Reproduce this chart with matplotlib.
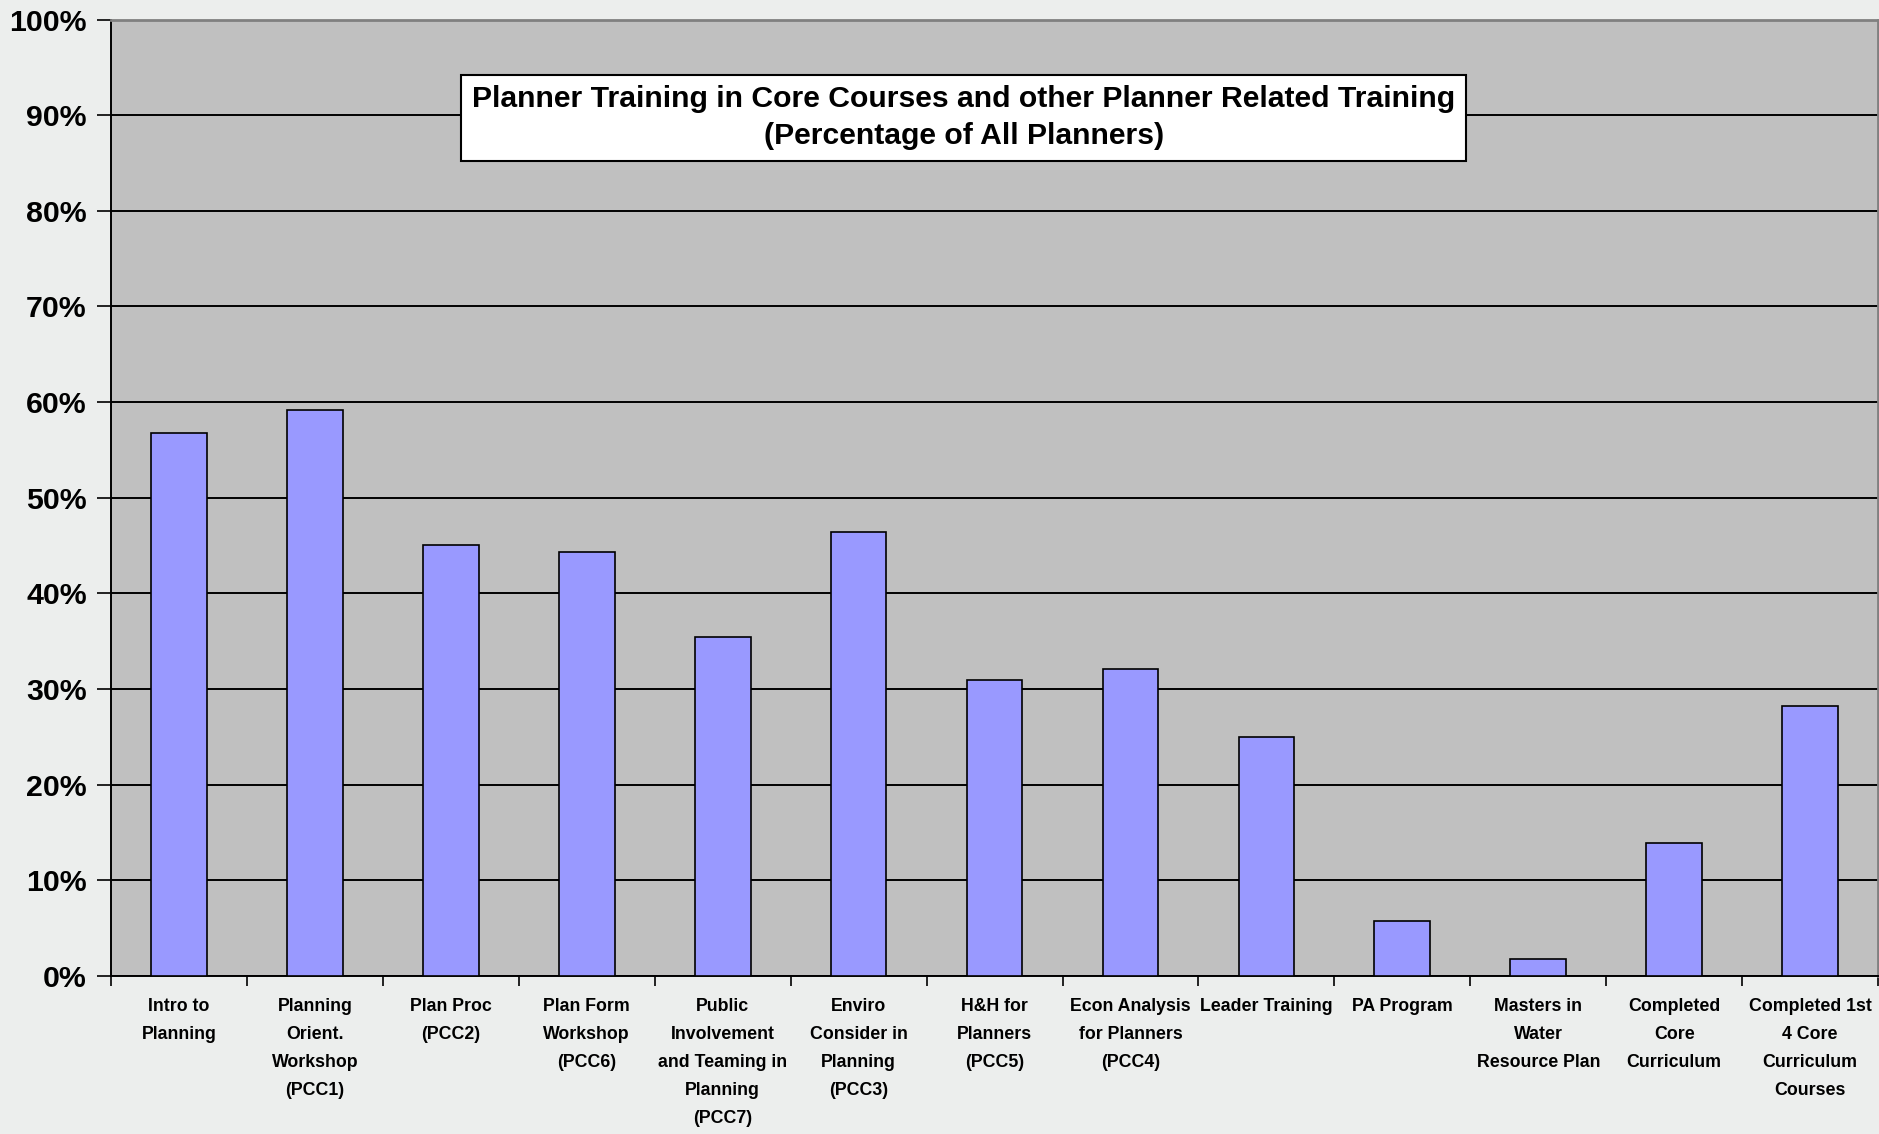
import matplotlib
matplotlib.use("Agg")
import matplotlib.pyplot as plt
import numpy as np

# data (percent of all planners)
courses = [
    "Intro to\nPlanning",
    "Planning\nOrient.\nWorkshop\n(PCC1)",
    "Plan Proc\n(PCC2)",
    "Plan Form\nWorkshop\n(PCC6)",
    "Public\nInvolvement\nand Teaming in\nPlanning\n(PCC7)",
    "Enviro\nConsider in\nPlanning\n(PCC3)",
    "H&H for\nPlanners\n(PCC5)",
    "Econ Analysis\nfor Planners\n(PCC4)",
    "Leader Training",
    "PA Program",
    "Masters in\nWater\nResource Plan",
    "Completed\nCore\nCurriculum",
    "Completed 1st\n4 Core\nCurriculum\nCourses",
]
pct_trained = [56.8, 59.2, 45.1, 44.3, 35.4, 46.4, 31.0, 32.1, 25.0, 5.8, 1.75, 13.9, 28.2]
y_ticks = [0, 10, 20, 30, 40, 50, 60, 70, 80, 90, 100]
title = "Planner Training in Core Courses and other Planner Related Training\n(Percentage of All Planners)"

FONT = "Liberation Sans"

fig = plt.figure(figsize=(18.79, 11.34), dpi=100, facecolor="#eceeed")
ax = fig.add_axes([0.0591, 0.1393, 0.9404, 0.8435])
ax.set_facecolor("#c0c0c0")

x = np.arange(len(courses))
ax.bar(x, pct_trained, width=0.41, color="#9999ff", edgecolor="black", linewidth=1.2, zorder=3)

ax.set_ylim(0, 100)
ax.set_xlim(-0.5, len(courses) - 0.5)
ax.set_yticks(y_ticks)
ax.set_yticklabels([f"{v}%" for v in y_ticks], fontsize=21.8, fontweight="bold", family=FONT)
ax.yaxis.grid(True, color="black", linewidth=1.4, zorder=1)
ax.set_axisbelow(True)
ax.tick_params(axis="y", direction="out", length=10, width=1.2, pad=7.5)

# labels at category centres, tick marks at category boundaries
ax.set_xticks(x)
ax.set_xticklabels(courses, fontsize=12.8, fontweight="bold", family=FONT, linespacing=1.85)
ax.set_xticks(np.arange(len(courses) + 1) - 0.5, minor=True)
ax.tick_params(axis="x", which="major", length=0, pad=16)
ax.tick_params(axis="x", which="minor", direction="out", length=7, width=1.2)

for side in ("left", "bottom"):
    ax.spines[side].set_color("black")
    ax.spines[side].set_linewidth(1.4)
for side in ("top", "right"):
    ax.spines[side].set_color("#808080")
    ax.spines[side].set_linewidth(2)

ax.text(0.4825, 0.8975, title, transform=ax.transAxes, ha="center", va="center",
        fontsize=21.7, fontweight="bold", family=FONT, linespacing=1.38, zorder=5,
        bbox=dict(boxstyle="square,pad=0.36", facecolor="white", edgecolor="black",
                  linewidth=1.5))

fig.savefig("out.png", dpi=100, facecolor=fig.get_facecolor())
